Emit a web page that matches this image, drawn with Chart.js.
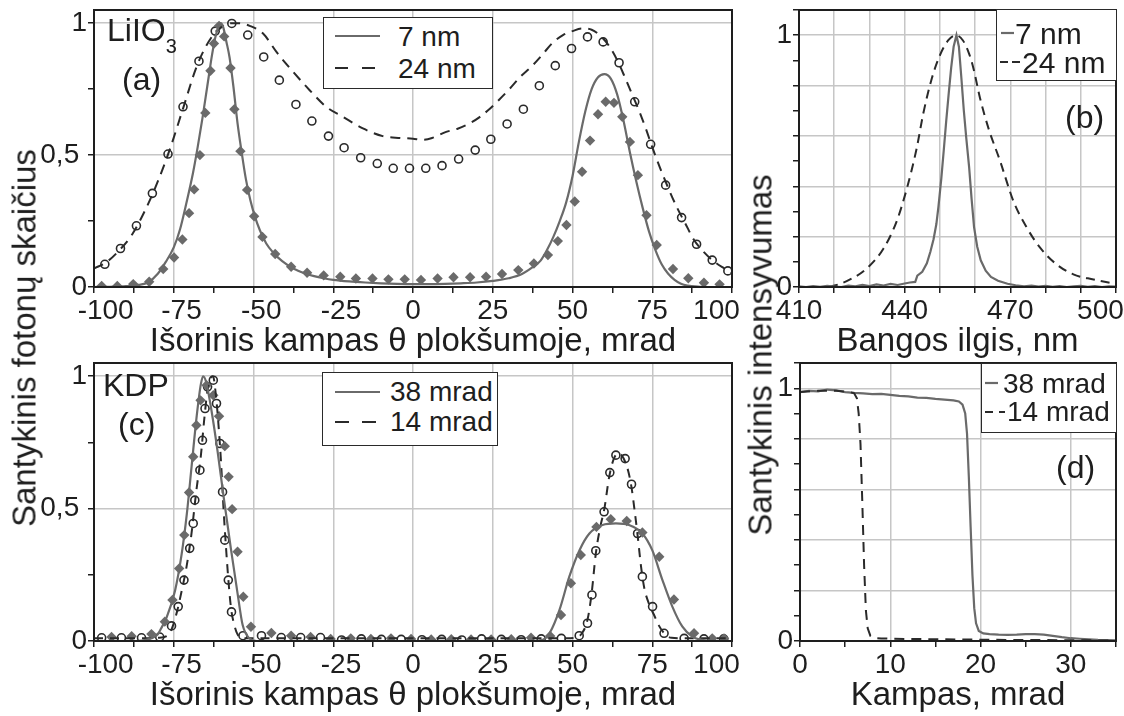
<!DOCTYPE html>
<html lang="lt">
<head>
<meta charset="utf-8">
<title>LiIO3 ir KDP: kampiniai ir spektriniai skirstiniai</title>
<script src="https://cdn.jsdelivr.net/npm/chart.js@4.4.1/dist/chart.umd.min.js"></script>
<style>
  html, body { margin: 0; padding: 0; background: #fff; }
  #page { position: relative; width: 1124px; height: 716px; overflow: hidden;
          font-family: 'Liberation Sans', Arial, sans-serif; color: #1e1e1e; }
  canvas { position: absolute; }
  .txt { position: absolute; white-space: nowrap; line-height: 1; transform: translateY(-50%); }
  .ytitle { position: absolute; white-space: nowrap; font-size: 33px; line-height: 1;
            transform: translate(-50%, -50%) rotate(-90deg); }
  .legend { position: absolute; background: #fff; border: 1.5px solid #2a2a2a; box-sizing: border-box; }
  svg.sample { position: absolute; overflow: visible; }
</style>
</head>
<body>
<div id="page">
  <canvas id="chartA" width="750" height="365" style="left:30px; top:0px;"></canvas>
  <canvas id="chartB" width="384" height="365" style="left:740px; top:0px;"></canvas>
  <canvas id="chartC" width="750" height="366" style="left:30px; top:350px;"></canvas>
  <canvas id="chartD" width="384" height="366" style="left:740px; top:350px;"></canvas>

  <!-- shared y titles -->
  <div class="ytitle" style="left:24px; top:338px;">Santykinis fotonų skaičius</div>
  <div class="ytitle" style="left:760px; top:355px;">Santykinis intensyvumas</div>

  <!-- panel labels -->
  <div class="txt" style="left:107px; top:30px; font-size:32px;">LiIO<span style="font-size:20px; position:relative; top:12px;">3</span></div>
  <div class="txt" style="left:122px; top:79px; font-size:32px;">(a)</div>
  <div class="txt" style="left:1065px; top:117px; font-size:32px;">(b)</div>
  <div class="txt" style="left:103px; top:385px; font-size:32px;">KDP</div>
  <div class="txt" style="left:118px; top:424px; font-size:32px;">(c)</div>
  <div class="txt" style="left:1056px; top:467px; font-size:32px;">(d)</div>

  <!-- legend (a) -->
  <div class="legend" style="left:323px; top:17px; width:170px; height:72px;"></div>
  <svg class="sample" style="left:335px; top:30px;" width="45" height="12"><line x1="0" y1="6" x2="45" y2="6" stroke="#6a6a6a" stroke-width="2.2"/></svg>
  <svg class="sample" style="left:335px; top:62px;" width="45" height="12"><line x1="0" y1="6" x2="45" y2="6" stroke="#2a2a2a" stroke-width="2.2" stroke-dasharray="13 14"/></svg>
  <div class="txt" style="left:398px; top:37px; font-size:28px;">7 nm</div>
  <div class="txt" style="left:398px; top:69px; font-size:28px;">24 nm</div>

  <!-- legend (b) -->
  <div class="legend" style="left:996px; top:9px; width:121px; height:72px;"></div>
  <svg class="sample" style="left:1001px; top:27px;" width="13" height="12"><line x1="0" y1="6" x2="13" y2="6" stroke="#6a6a6a" stroke-width="2.2"/></svg>
  <svg class="sample" style="left:1000px; top:56px;" width="20" height="12"><line x1="0" y1="6" x2="20" y2="6" stroke="#2a2a2a" stroke-width="2.2" stroke-dasharray="8 4"/></svg>
  <div class="txt" style="left:1015px; top:34px; font-size:30px;">7 nm</div>
  <div class="txt" style="left:1022px; top:63px; font-size:30px;">24 nm</div>

  <!-- legend (c) -->
  <div class="legend" style="left:322px; top:372px; width:176px; height:74px;"></div>
  <svg class="sample" style="left:335px; top:386px;" width="45" height="12"><line x1="0" y1="6" x2="45" y2="6" stroke="#6a6a6a" stroke-width="2.2"/></svg>
  <svg class="sample" style="left:335px; top:416px;" width="45" height="12"><line x1="0" y1="6" x2="45" y2="6" stroke="#2a2a2a" stroke-width="2.2" stroke-dasharray="14 13"/></svg>
  <div class="txt" style="left:390px; top:392px; font-size:28px;">38 mrad</div>
  <div class="txt" style="left:390px; top:422px; font-size:28px;">14 mrad</div>

  <!-- legend (d) -->
  <div class="legend" style="left:981px; top:363px; width:136px; height:70px;"></div>
  <svg class="sample" style="left:985px; top:377px;" width="13" height="12"><line x1="0" y1="6" x2="13" y2="6" stroke="#6a6a6a" stroke-width="2.2"/></svg>
  <svg class="sample" style="left:985px; top:406px;" width="20" height="12"><line x1="0" y1="6" x2="20" y2="6" stroke="#2a2a2a" stroke-width="2.2" stroke-dasharray="8 6"/></svg>
  <div class="txt" style="left:1003px; top:384px; font-size:28px;">38 mrad</div>
  <div class="txt" style="left:1007px; top:412px; font-size:28px;">14 mrad</div>
</div>

<script>
// ---- tick labels ----
const thetaTickLabels = ['-100', '-75', '-50', '-25', '0', '25', '50', '75', '100'];
const photonTickLabels = ['0', '0,5', '1'];
const lambdaTickLabels = ['410', '440', '470', '500'];
const angleTickLabels = ['0', '10', '20', '30'];
const intensityTickLabels = ['0', '1'];

// ---- panel (a): LiIO3, angular distribution ----
const aFit7X = [-100, -95, -90, -86, -83, -80, -77.5, -75, -73, -71, -69, -67.5, -66, -64.5, -63, -62, -61, -60.3, -59.5, -58.5,
  -57.5, -56.3, -55, -53.7, -52.4, -51, -49.5, -48, -46, -43.8, -41, -37.5, -34, -31, -28, -25, -20, -15, -10, -5,
  0, 5, 10, 15, 20, 25, 30, 34, 37.5, 40, 42, 44, 46, 48, 50, 52, 54, 56, 58, 60,
  62, 64, 66, 68, 70, 72, 74, 76, 78, 80, 82, 84, 86, 90, 95, 100];
const aFit7Y = [0, 0.001, 0.003, 0.008, 0.018, 0.05, 0.095, 0.15, 0.22, 0.32, 0.43, 0.53, 0.64, 0.76, 0.88, 0.945, 0.985, 1.0, 0.985, 0.93,
  0.87, 0.76, 0.62, 0.51, 0.41, 0.33, 0.265, 0.215, 0.165, 0.13, 0.098, 0.07, 0.052, 0.041, 0.033, 0.027, 0.021, 0.017, 0.014, 0.012,
  0.011, 0.011, 0.012, 0.014, 0.017, 0.023, 0.033, 0.048, 0.075, 0.1, 0.14, 0.19, 0.25, 0.32, 0.42, 0.55, 0.665, 0.75, 0.795, 0.807,
  0.79, 0.73, 0.63, 0.51, 0.4, 0.3, 0.21, 0.14, 0.085, 0.05, 0.027, 0.012, 0.005, 0.001, 0, 0];

const aFit24X = [-100, -96, -92, -88, -84, -80, -76, -72, -68, -65, -62, -59.5, -57, -54.5, -51.2, -47, -42.8, -37.6, -32.4, -27.2,
  -22, -15.7, -9.5, -4, 0, 3, 6, 10.4, 14, 17.7, 21, 24, 27, 30.2, 33.5, 37.5, 40.5, 43.7, 47, 50,
  53, 56, 58.5, 61.4, 64, 66.6, 68.7, 70.8, 73, 75, 77.5, 80.2, 82.8, 85.4, 88, 90.6, 94, 97, 100];
const aFit24Y = [0.07, 0.095, 0.14, 0.2, 0.29, 0.4, 0.53, 0.68, 0.83, 0.91, 0.965, 0.99, 1.0, 1.0, 0.99, 0.961, 0.891, 0.816, 0.746, 0.683,
  0.645, 0.601, 0.572, 0.565, 0.562, 0.558, 0.565, 0.588, 0.6, 0.62, 0.645, 0.675, 0.71, 0.75, 0.795, 0.84, 0.88, 0.925, 0.955, 0.97,
  0.98, 0.975, 0.955, 0.915, 0.86, 0.79, 0.73, 0.67, 0.6, 0.53, 0.45, 0.37, 0.3, 0.24, 0.18, 0.14, 0.1, 0.075, 0.055];

const aMeas7X = [-97.6, -92.7, -87.7, -82.7, -78.3, -74.9, -72.3, -70.2, -68.6, -66.8, -65.1, -63.5, -62.4, -60.8, -59.2, -57.2, -56.0, -54.1, -52.0, -49.8,
  -47.2, -43.2, -38.2, -33.2, -28.0, -22.8, -17.9, -12.7, -7.7, -2.6, 2.5, 7.7, 12.7, 17.9, 22.9, 27.9, 33.0, 37.9, 42.3, 45.4,
  48.1, 50.7, 53.0, 55.5, 58.0, 60.4, 63.0, 65.6, 68.0, 70.5, 73.2, 76.4, 81.5, 86.3, 91.2, 96.1];
const aMeas7Y = [0.004, 0.004, 0.011, 0.02, 0.068, 0.112, 0.18, 0.28, 0.37, 0.5, 0.66, 0.82, 0.923, 0.99, 0.95, 0.83, 0.674, 0.515, 0.368, 0.268,
  0.19, 0.125, 0.077, 0.054, 0.044, 0.039, 0.032, 0.032, 0.029, 0.029, 0.027, 0.032, 0.037, 0.037, 0.039, 0.049, 0.064, 0.089, 0.121, 0.174,
  0.235, 0.324, 0.437, 0.555, 0.655, 0.702, 0.698, 0.645, 0.55, 0.424, 0.272, 0.159, 0.068, 0.033, 0.016, 0.01];

const aMeas24X = [-96.6, -91.7, -86.7, -81.7, -76.8, -72.1, -67.1, -62.0, -56.8, -51.8, -46.8, -41.9, -36.7, -31.7, -26.5, -21.6, -16.4, -11.2, -6.2, -1.1,
  4.0, 9.1, 14.3, 19.5, 24.4, 29.5, 34.6, 39.6, 44.6, 49.7, 54.7, 59.6, 64.6, 69.5, 74.5, 79.2, 84.2, 88.9, 93.8, 98.7];
const aMeas24Y = [0.086, 0.146, 0.232, 0.355, 0.504, 0.683, 0.856, 0.97, 0.999, 0.955, 0.872, 0.784, 0.692, 0.629, 0.572, 0.528, 0.49, 0.468, 0.45, 0.45,
  0.45, 0.46, 0.485, 0.519, 0.56, 0.618, 0.674, 0.763, 0.839, 0.904, 0.948, 0.929, 0.85, 0.702, 0.541, 0.386, 0.263, 0.162, 0.102, 0.061];

// ---- panel (b): spectra ----
const bSpec7X = [410, 412, 414, 416, 418, 420, 422, 424, 426, 428, 430, 432, 434, 436, 438, 440, 441.5, 443, 443.6, 445,
  446.3, 447.3, 448.2, 449, 449.6, 450.4, 451.1, 451.8, 452.5, 453.2, 453.9, 454.7, 455.4, 456.1, 456.8, 457.5, 458.3, 459, 459.7, 460.6,
  461.6, 463, 464.5, 466.5, 469.2, 471.5, 473.9, 476, 478, 480, 482, 484, 486, 488, 490, 492, 494, 496, 498, 500];
const bSpec7Y = [0.003, 0.0, 0.004, 0.001, 0.005, 0.002, 0.0, 0.006, 0.003, 0.008, 0.004, 0.01, 0.006, 0.012, 0.008, 0.014, 0.018, 0.02, 0.045, 0.06,
  0.094, 0.14, 0.19, 0.25, 0.32, 0.43, 0.543, 0.66, 0.768, 0.87, 0.954, 1.0, 0.954, 0.83, 0.7, 0.59, 0.476, 0.35, 0.238, 0.16,
  0.106, 0.065, 0.04, 0.025, 0.013, 0.007, 0.003, 0.006, 0.002, 0.005, 0.001, 0.004, 0.0, 0.003, 0.005, 0.001, 0.004, 0.0, 0.003, 0.002];

const bSpec24X = [410, 415, 419.8, 424.5, 429.2, 434, 437.7, 440.6, 443.4, 445.3, 447.7, 450, 452.4, 454.5, 456.5, 458.2, 459.5, 461.4, 463.8, 467.1,
  470.9, 474.7, 478.5, 483.2, 487.9, 493.6, 500];
const bSpec24Y = [0.0, 0.0, 0.005, 0.03, 0.073, 0.153, 0.26, 0.39, 0.55, 0.69, 0.828, 0.92, 0.98, 1.0, 0.98, 0.93, 0.87, 0.75, 0.63, 0.5,
  0.34, 0.235, 0.155, 0.089, 0.05, 0.03, 0.012];

// ---- panel (c): KDP, angular distribution ----
const cFit38X = [-100, -90, -85, -82, -80, -79.3, -77.2, -74.6, -72.5, -70.9, -69.4, -67.8, -66.5, -65.8, -64.9, -63.3, -61.3, -59.2, -57.1, -55,
  -53.4, -51.3, -49, -45, -40, -30, -20, -10, 0, 10, 20, 30, 36, 39.6, 41.5, 42.8, 45.9, 49, 52.2, 55.3,
  59.4, 63.6, 67.7, 71.9, 75, 78.2, 81.3, 84.4, 87.5, 90, 95, 100];
const cFit38Y = [0, 0, 0.002, 0.01, 0.025, 0.04, 0.09, 0.19, 0.33, 0.48, 0.66, 0.85, 0.97, 1.0, 0.98, 0.88, 0.72, 0.53, 0.35, 0.18,
  0.06, 0.01, 0, 0, 0, 0, 0, 0, 0, 0, 0, 0, 0, 0.002, 0.01, 0.029, 0.117, 0.243, 0.343, 0.406,
  0.438, 0.444, 0.438, 0.406, 0.343, 0.23, 0.13, 0.055, 0.017, 0.005, 0, 0];

const cFit14X = [-100, -85, -80, -77, -75.5, -74, -72.5, -71, -69.5, -68, -66.5, -65.5, -64.5, -63.6, -62.7, -61.8, -61, -60.2, -59.4, -58.6,
  -57.8, -57, -56, -55, -53.5, -50, -40, 0, 40, 48, 51, 53, 54.7, 56, 57.3, 58.7, 60, 61.5, 63, 64.6,
  66, 67.5, 68.5, 69.5, 70.4, 71.5, 72.5, 74, 75.5, 77, 78.7, 81, 85, 100];
const cFit14Y = [0.01, 0.01, 0.012, 0.02, 0.05, 0.11, 0.19, 0.28, 0.4, 0.56, 0.7, 0.83, 0.94, 0.99, 1.0, 0.93, 0.82, 0.68, 0.5, 0.35,
  0.22, 0.12, 0.06, 0.025, 0.01, 0.01, 0.01, 0.01, 0.01, 0.01, 0.012, 0.03, 0.08, 0.18, 0.33, 0.43, 0.5, 0.62, 0.69, 0.71,
  0.69, 0.64, 0.58, 0.49, 0.4, 0.28, 0.2, 0.14, 0.1, 0.06, 0.03, 0.012, 0.01, 0.01];

const cMeas38X = [-94.5, -88.2, -82.0, -77.8, -75.4, -73.3, -71.7, -70.2, -68.9, -67.9, -66.6, -64.7, -62.6, -60.8, -59.0, -57.8, -56.7, -55.0, -53.2, -50.8,
  -44.4, -38.2, -32.1, -25.8, -19.5, -13.2, -6.9, -0.6, 5.7, 12.0, 18.2, 24.5, 30.8, 37.0, 43.0, 46.4, 49.5, 52.6, 57.5, 62.0,
  67.0, 71.9, 77.2, 81.8, 88.1, 93.8, 97.5];
const cMeas38Y = [0.015, 0.018, 0.026, 0.073, 0.155, 0.274, 0.40, 0.561, 0.696, 0.815, 0.909, 0.966, 0.928, 0.849, 0.736, 0.62, 0.498, 0.337, 0.167, 0.054,
  0.03, 0.02, 0.015, 0.008, 0.01, 0.008, 0.01, 0.008, 0.006, 0.007, 0.006, 0.006, 0.007, 0.012, 0.019, 0.098, 0.218, 0.325, 0.431, 0.46,
  0.453, 0.41, 0.318, 0.157, 0.029, 0.01, 0.01];

const cMeas14X = [-97.6, -91.4, -85.1, -79.4, -75.7, -73.6, -71.8, -70.0, -68.9, -68.4, -66.8, -66.0, -65.2, -64.4, -62.6, -61.6, -60.5, -59.7, -59.0, -57.9,
  -56.9, -53.3, -47.5, -41.3, -35.2, -29.0, -22.4, -16.2, -9.9, -3.7, 2.8, 9.0, 15.3, 21.5, 27.7, 33.9, 40.2, 46.5, 52.1, 54.7,
  56.1, 57.3, 59.9, 61.7, 63.6, 66.5, 68.5, 70.4, 71.9, 75.1, 78.7, 85.0, 91.2, 97.4];
const cMeas14Y = [0.012, 0.012, 0.012, 0.015, 0.057, 0.13, 0.23, 0.35, 0.444, 0.532, 0.645, 0.758, 0.878, 0.96, 0.985, 0.897, 0.746, 0.563, 0.381, 0.23,
  0.11, 0.02, 0.02, 0.013, 0.013, 0.013, 0.004, 0.008, 0.006, 0.006, 0.005, 0.006, 0.004, 0.008, 0.006, 0.005, 0.008, 0.01, 0.02, 0.067,
  0.174, 0.341, 0.488, 0.636, 0.702, 0.689, 0.592, 0.406, 0.243, 0.13, 0.029, 0.01, 0.008, 0.008];

// ---- panel (d): intensity vs angle ----
const dSig38X = [0, 1, 2, 3, 4, 5, 6, 7, 8, 9, 10, 11, 12, 13, 14, 15, 16, 17, 17.6, 18.0,
  18.3, 18.5, 18.7, 18.9, 19.1, 19.3, 19.5, 19.8, 20.3, 21, 22, 23, 24, 25, 26, 27, 28, 29, 30, 31,
  32, 33, 34, 35];
const dSig38Y = [0.985, 0.99, 0.988, 0.995, 0.992, 0.985, 0.982, 0.98, 0.977, 0.978, 0.974, 0.97, 0.968, 0.963, 0.962, 0.958, 0.955, 0.952, 0.948, 0.935,
  0.9, 0.82, 0.65, 0.45, 0.26, 0.13, 0.07, 0.04, 0.03, 0.027, 0.025, 0.024, 0.025, 0.027, 0.027, 0.025, 0.02, 0.015, 0.011, 0.009,
  0.007, 0.005, 0.004, 0.003];

const dSig14X = [0, 2, 4, 5.5, 6.0, 6.3, 6.5, 6.7, 6.9, 7.1, 7.3, 7.5, 7.8, 8.2, 9, 12, 15, 18, 20, 25, 30, 35];
const dSig14Y = [0.985, 0.99, 0.99, 0.985, 0.98, 0.96, 0.9, 0.78, 0.55, 0.3, 0.12, 0.05, 0.02, 0.012, 0.01, 0.008, 0.007, 0.006, 0.005, 0.004, 0.003, 0.002];

// ---- styling ----
const FONT = "'Liberation Sans', Arial, sans-serif";
const INK = '#1e1e1e';
const GRID = '#c6c6c6';
const GRAY = '#6a6a6a';
const DARK = '#2a2a2a';
const NONE = 'rgba(0,0,0,0)';

// the original nudges some labels sideways (end labels kept inside the frame)
const labelNudge = {'-100': '   -100', '-75': '  -75', '-50': '  -50', '-25': '  -25',
    '100': '100    ', '500': '500    ', '0,5': '0,5 '};

Chart.defaults.animation = false;
Chart.defaults.font.family = FONT;

function pts(xs, ys) {
    return xs.map((x, i) => ({x: x, y: ys[i]}));
}

function solidLine(xs, ys, smooth) {
    return {data: pts(xs, ys), showLine: true, borderColor: GRAY, borderWidth: 2.2, pointRadius: 0,
        cubicInterpolationMode: smooth ? 'monotone' : 'default', tension: 0};
}

function dashedLine(xs, ys, dash, smooth) {
    return {data: pts(xs, ys), showLine: true, borderColor: DARK, borderWidth: 2, borderDash: dash, pointRadius: 0,
        cubicInterpolationMode: smooth ? 'monotone' : 'default', tension: 0};
}

function diamonds(xs, ys) {
    return {data: pts(xs, ys), showLine: false, pointStyle: 'rectRot', pointRadius: 5.2,
        pointBackgroundColor: GRAY, pointBorderColor: GRAY, pointBorderWidth: 0};
}

function circles(xs, ys) {
    return {data: pts(xs, ys), showLine: false, pointStyle: 'circle', pointRadius: 4,
        pointBackgroundColor: NONE, pointBorderColor: DARK, pointBorderWidth: 1.6};
}

function fmt(v) {
    return String(v).replace('.', ',');
}

function tickText(v, labels) {
    const s = fmt(v);
    if (!labels.includes(s)) return '';
    return labelNudge[s] || s;
}

function xAxis(min, max, step, labels, hasGrid, title) {
    return {
        type: 'linear', min: min, max: max,
        border: {display: false},
        ticks: {stepSize: step, includeBounds: false, autoSkip: false, maxRotation: 0, padding: 1,
            color: INK, font: {size: 28},
            callback: v => tickText(v, labels)},
        grid: {color: c => hasGrid(c.tick.value) ? GRID : NONE, lineWidth: 1.5,
            tickColor: INK, tickLength: 6, tickWidth: 1.5},
        title: {display: true, text: title, color: INK, font: {size: 33}, padding: 0},
        afterFit: s => { s.height = 75; s.paddingLeft = 0; s.paddingRight = 0; }
    };
}

function yAxis(max, step, labels, hasGrid, width) {
    return {
        type: 'linear', min: 0, max: max,
        border: {display: false},
        ticks: {stepSize: step, includeBounds: false, autoSkip: false, padding: 1,
            color: INK, font: {size: 28},
            callback: v => tickText(v, labels)},
        grid: {color: c => hasGrid(c.tick.value) ? GRID : NONE, lineWidth: 1.5,
            tickColor: INK, tickLength: 6, tickWidth: 1.5},
        afterFit: s => { s.width = width; s.paddingTop = 0; s.paddingBottom = 0; }
    };
}

// black box round the plot area
const framePlugin = {
    id: 'frame',
    afterDatasetsDraw(chart) {
        const {ctx, chartArea: a} = chart;
        ctx.save();
        ctx.strokeStyle = INK;
        ctx.lineWidth = 2;
        ctx.strokeRect(a.left, a.top, a.right - a.left, a.bottom - a.top);
        ctx.restore();
    }
};

function makeChart(id, datasets, scales, padding) {
    return new Chart(document.getElementById(id), {
        type: 'scatter',
        data: {datasets: datasets},
        options: {
            responsive: false,
            layout: {padding: padding},
            plugins: {legend: {display: false}, tooltip: {enabled: false}},
            scales: scales
        },
        plugins: [framePlugin]
    });
}

const thetaGrid = v => Math.abs(v) < 99 && v % 25 === 0;
const photonGrid = v => v === 0.5 || v === 1;
const fifthGrid = v => v > 0.01 && v < 1.05 && Math.round(v * 10) % 2 === 0;
const thetaTitle = 'Išorinis kampas θ plokšumoje, mrad';

makeChart('chartA', [
    solidLine(aFit7X, aFit7Y, true),
    dashedLine(aFit24X, aFit24Y, [10, 7], true),
    diamonds(aMeas7X, aMeas7Y),
    circles(aMeas24X, aMeas24Y)
], {
    x: xAxis(-100, 100, 12.5, thetaTickLabels, thetaGrid, thetaTitle),
    y: yAxis(1.05, 0.25, photonTickLabels, photonGrid, 64)
}, {left: 0, top: 10, right: 48, bottom: 3});

makeChart('chartB', [
    solidLine(bSpec7X, bSpec7Y, false),
    dashedLine(bSpec24X, bSpec24Y, [9, 6], true)
], {
    x: xAxis(410, 500, 10, lambdaTickLabels, v => v > 410 && v < 500, 'Bangos ilgis, nm'),
    y: yAxis(1.1, 0.1, intensityTickLabels, fifthGrid, 59)
}, {left: 0, top: 10, right: 8, bottom: 3});

makeChart('chartC', [
    solidLine(cFit38X, cFit38Y, true),
    dashedLine(cFit14X, cFit14Y, [9, 7], true),
    diamonds(cMeas38X, cMeas38Y),
    circles(cMeas14X, cMeas14Y)
], {
    x: xAxis(-100, 100, 12.5, thetaTickLabels, thetaGrid, thetaTitle),
    y: yAxis(1.05, 0.25, photonTickLabels, photonGrid, 64)
}, {left: 0, top: 13, right: 48, bottom: 0});

makeChart('chartD', [
    dashedLine(dSig14X, dSig14Y, [10, 7], false),
    solidLine(dSig38X, dSig38Y, false)
], {
    x: xAxis(0, 35, 5, angleTickLabels, v => v > 0 && v < 35 && v % 10 === 0, 'Kampas, mrad'),
    y: yAxis(1.1, 0.1, intensityTickLabels, fifthGrid, 60)
}, {left: 0, top: 13, right: 8, bottom: 0});
</script>
</body>
</html>
